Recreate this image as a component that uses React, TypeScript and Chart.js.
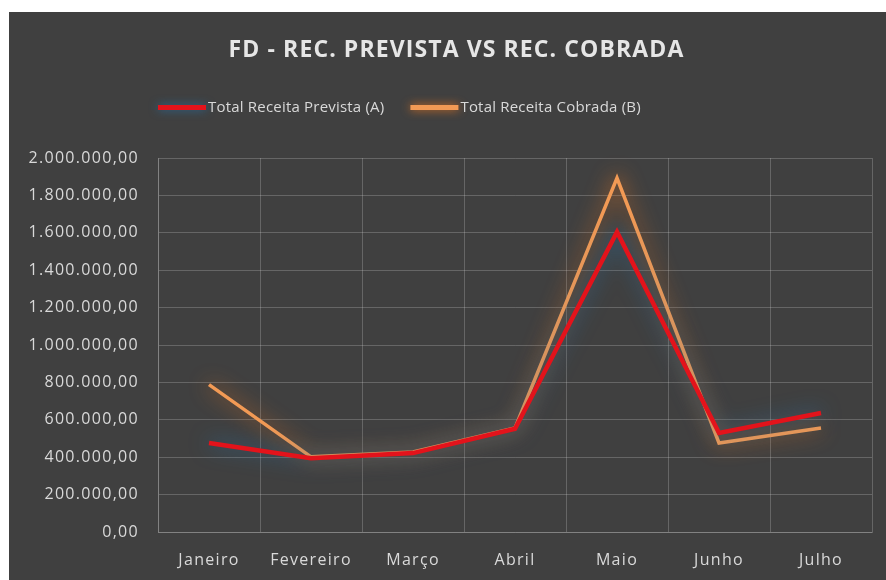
import React, { useEffect, useRef } from "react";
import { Chart, registerables } from "chart.js";

Chart.register(...registerables);

const chartTitle = "FD - REC. PREVISTA VS REC. COBRADA";
const categories = ["Janeiro", "Fevereiro", "Março", "Abril", "Maio", "Junho", "Julho"];
const seriesLabels = ["Total Receita Prevista (A)", "Total Receita Cobrada (B)"];
const receitaPrevista = [476000, 395000, 422000, 552000, 1604000, 529000, 636000];
const receitaCobrada = [788000, 402000, 428000, 556000, 1893000, 476000, 556000];
const yMin = 0;
const yMax = 2000000;
const yStep = 200000;

const BG = "#404040";
const TEXT = "#d9d9d9";
const GRID = "rgba(217,217,217,0.25)";
const FONT = "'Open Sans', 'Noto Sans', sans-serif";
const AXIS_SPACING = "1.3px";

function fmtBR(v: number): string {
  const s = Math.round(v).toString().replace(/\B(?=(\d{3})+(?!\d))/g, ".");
  return s + ",00";
}

const spacingPlugin = {
  id: "spacing",
  beforeUpdate(chart: any) {
    (chart.ctx as any).letterSpacing = AXIS_SPACING;
  },
  beforeDraw(chart: any) {
    (chart.ctx as any).letterSpacing = AXIS_SPACING;
  },
};

const glowPlugin = {
  id: "glow",
  beforeDatasetDraw(chart: any, args: any) {
    const ds: any = chart.data.datasets[args.index];
    const ctx = chart.ctx;
    ctx.save();
    ctx.shadowColor = ds.glowColor;
    ctx.shadowBlur = 20;
  },
  afterDatasetDraw(chart: any) {
    chart.ctx.restore();
  },
};

const headerPlugin = {
  id: "header",
  afterDraw(chart: any) {
    const ctx = chart.ctx;
    const area = chart.chartArea;
    ctx.save();
    ctx.letterSpacing = "1.1px";
    ctx.fillStyle = "#e6e6e6";
    ctx.font = `bold 23px ${FONT}`;
    ctx.textAlign = "center";
    ctx.textBaseline = "middle";
    ctx.fillText(chartTitle, chart.width / 2 + 9, 38);

    ctx.letterSpacing = "0.2px";
    ctx.font = `15px ${FONT}`;
    ctx.textAlign = "left";
    let x = area.left;
    const y = 96;
    chart.data.datasets.forEach((ds: any) => {
      ctx.save();
      ctx.shadowColor = ds.glowColor;
      ctx.shadowBlur = 10;
      ctx.fillStyle = ds.borderColor;
      ctx.fillRect(x, y - 3, 48, 5);
      ctx.restore();
      ctx.fillStyle = TEXT;
      ctx.fillText(ds.label, x + 50, y);
      x += 50 + ctx.measureText(ds.label).width + 26;
    });
    ctx.restore();
  },
};

export default function App() {
  const ref = useRef<HTMLCanvasElement | null>(null);

  useEffect(() => {
    if (!ref.current) return;
    const chart = new Chart(ref.current, {
      type: "line",
      data: {
        labels: categories,
        datasets: [
          {
            label: seriesLabels[0],
            data: receitaPrevista,
            borderColor: "#e3131b",
            backgroundColor: "#e3131b",
            borderWidth: 4.5,
            pointRadius: 0,
            tension: 0,
            clip: 30,
            glowColor: "rgba(40,110,160,0.9)",
          } as any,
          {
            label: seriesLabels[1],
            data: receitaCobrada,
            borderColor: "#f29a55",
            backgroundColor: "#f29a55",
            borderWidth: 3.5,
            pointRadius: 0,
            tension: 0,
            clip: 30,
            glowColor: "rgba(240,120,30,0.9)",
          } as any,
        ],
      },
      options: {
        animation: false,
        responsive: false,
        maintainAspectRatio: false,
        layout: { padding: { top: 146, right: 14, bottom: 0, left: 0 } },
        plugins: {
          legend: { display: false },
          title: { display: false },
          tooltip: { enabled: false },
        },
        scales: {
          x: {
            offset: true,
            grid: { color: GRID, offset: true, drawTicks: false, lineWidth: 1 },
            border: { display: true, color: GRID },
            ticks: { color: TEXT, font: { family: FONT, size: 16 }, padding: 19 },
            afterFit: (s: any) => {
              s.height = 48;
            },
          },
          y: {
            min: yMin,
            max: yMax,
            grid: { color: GRID, drawTicks: false, lineWidth: 1 },
            border: { display: true, color: GRID },
            ticks: {
              stepSize: yStep,
              color: TEXT,
              font: { family: FONT, size: 16 },
              padding: 19,
              callback: (v: any) => fmtBR(Number(v)),
            },
            afterFit: (s: any) => {
              s.width = 149;
            },
          },
        },
      },
      plugins: [spacingPlugin, glowPlugin, headerPlugin],
    });
    return () => chart.destroy();
  }, []);

  return (
    <div style={{ position: "fixed", left: 0, top: 0, width: 886, height: 580, background: "#ffffff" }}>
      <div style={{ position: "absolute", left: 9, top: 12, width: 877, height: 568, background: BG }}>
        <canvas ref={ref} width={877} height={568} style={{ display: "block", width: 877, height: 568 }} />
      </div>
    </div>
  );
}
